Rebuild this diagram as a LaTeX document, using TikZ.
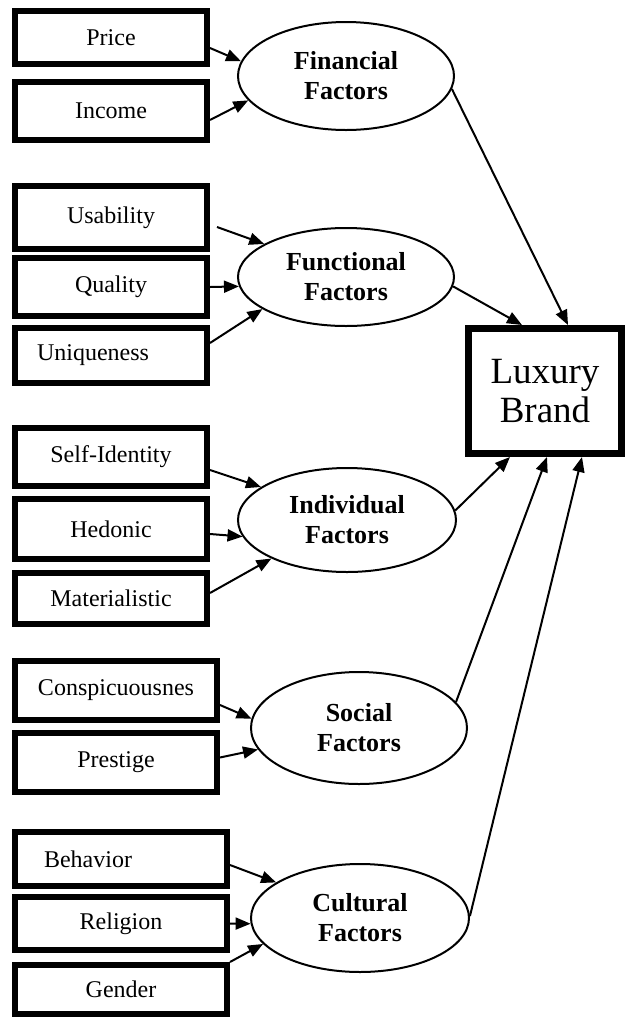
\documentclass[tikz,border=0pt]{standalone}
\usepackage{fontspec}
\setmainfont{Liberation Serif}
\usepackage{tikz}
\usetikzlibrary{shapes.geometric,arrows.meta}

\tikzset{
  itembox/.style={draw, line width=3pt, rectangle, inner sep=0pt, minimum width=96pt, font=\fontsize{12}{14}\selectfont},
  factor/.style={draw, line width=1pt, ellipse, inner sep=0pt, align=center, font=\fontsize{13}{15}\selectfont\bfseries},
  link/.style={-{Triangle[length=7.5pt,width=6pt]}, line width=1pt},
}

\begin{document}
\begin{tikzpicture}[x=0.5pt, y=-0.5pt]
    \useasboundingbox (0,0) rectangle (629,1019);

    % Observed items
    \node[itembox, minimum height=26.5pt] (price) at (111,37.5) {Price};
    \node[itembox, minimum height=29pt] (income) at (111,111) {Income};
    \node[itembox, minimum height=31.5pt] (usab) at (111,217.5) {Usability};
    \node[itembox, minimum height=29pt] (qual) at (111,287) {Quality};
    \node[itembox, minimum height=27.5pt] (uniq) at (111,355.5) {Uniqueness\hspace{18pt}\mbox{}};
    \node[itembox, minimum height=29pt] (self) at (111,457) {Self-Identity};
    \node[itembox, minimum height=30pt] (hedon) at (111,529) {Hedonic};
    \node[itembox, minimum height=25.5pt] (mater) at (111,598.5) {Materialistic};
    \node[itembox, minimum width=101pt, minimum height=29.5pt] (consp) at (116,690.5) {Conspicuousnes};
    \node[itembox, minimum width=101pt, minimum height=29.5pt] (prest) at (116,762.5) {Prestige};
    \node[itembox, minimum width=106pt, minimum height=27pt] (behav) at (121,859) {Behavior\hspace{33pt}\mbox{}};
    \node[itembox, minimum width=106pt, minimum height=26.5pt] (relig) at (121,923.5) {Religion};
    \node[itembox, minimum width=106pt, minimum height=24.5pt] (gender) at (121,989.5) {Gender};

    % Factors
    \node[factor, minimum width=108pt, minimum height=54pt] (fin) at (346,76) {Financial\\Factors};
    \node[factor, minimum width=108pt, minimum height=49pt] (func) at (346,277) {Functional\\Factors};
    \node[factor, minimum width=109pt, minimum height=52pt] (indiv) at (347,520) {Individual\\Factors};
    \node[factor, minimum width=108pt, minimum height=56pt] (social) at (359,728) {Social\\Factors};
    \node[factor, minimum width=109pt, minimum height=54pt] (cult) at (360,918) {Cultural\\Factors};

    \node[draw, line width=3.5pt, inner sep=0pt, minimum width=76.5pt, minimum height=62.5pt, align=center,
          font=\fontsize{18.5}{19.5}\selectfont] (lux) at (545,391) {Luxury\\Brand};

    % Items to factors
    \draw[link] ([yshift=-5.25pt]price.east) -- (fin.172);
    \draw[link] ([yshift=-4.5pt]income.east) -- (fin.194);
    \draw[link] ([xshift=3.5pt,yshift=-4.75pt]usab.east) -- (func.158);
    \draw[link] (qual.east) -- (func.185);
    \draw[link] ([yshift=6.25pt]uniq.east) -- (func.201);
    \draw[link] ([yshift=-6.5pt]self.east) -- (indiv.159);
    \draw[link] ([yshift=-2.5pt]hedon.east) -- (indiv.189);
    \draw[link] ([yshift=2.75pt]mater.east) -- (indiv.207);
    \draw[link] ([yshift=-7.25pt]consp.east) -- (social.175);
    \draw[link] ([yshift=2.5pt]prest.east) -- (social.192);
    \draw[link] ([yshift=-3pt]behav.east) -- (cult.157);
    \draw[link] (relig.east) -- (cult.183);
    \draw[link] (gender.north east) -- (cult.195);

    % Factors to brand
    \draw[link] (fin.-7.5) -- ([xshift=11.5pt]lux.north);
    \draw[link] (func.-5) -- ([xshift=-11.5pt]lux.north);
    \draw[link] (indiv.5) -- ([xshift=-17.5pt]lux.south);
    \draw[link] (social.15) -- ([xshift=1pt]lux.south);
    \draw[link] (cult.1.6) -- ([xshift=18.5pt]lux.south);
\end{tikzpicture}
\end{document}
